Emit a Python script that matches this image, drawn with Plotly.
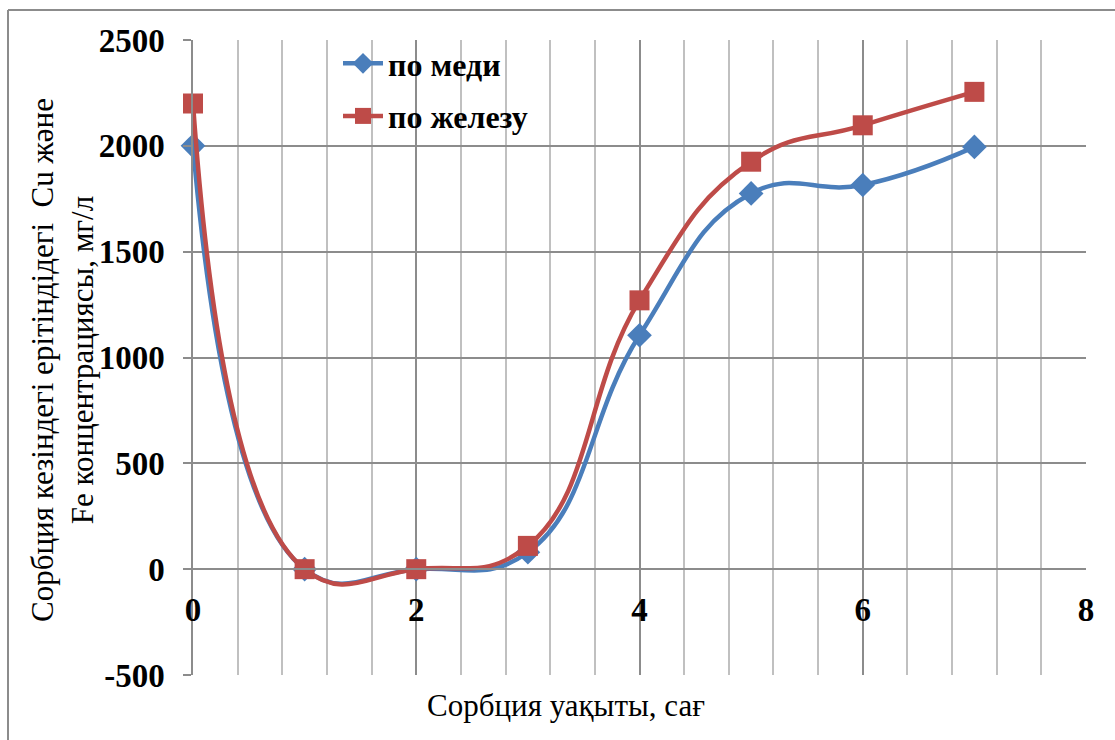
import plotly.graph_objects as go

# Data
time_h = [0, 1, 2, 3, 4, 5, 6, 7]
cu_conc = [2000, 0, 0, 80, 1105, 1775, 1815, 1995]
fe_conc = [2200, 0, 0, 110, 1270, 1925, 2097, 2255]
x_ticks = [0, 2, 4, 6, 8]
y_ticks = [-500, 0, 500, 1000, 1500, 2000, 2500]

W, H = 1115, 740
L, R, T, B = 193, 1086, 40, 675
pw, ph = R - L, B - T


def px(xp):
    return (xp - L) / pw


def py(yp):
    return (B - yp) / ph


FONT = "Liberation Serif, Times New Roman, serif"
BLUE = "#4a7ebb"
RED = "#be4b48"

fig = go.Figure()
fig.add_trace(go.Scatter(
    x=time_h, y=cu_conc, name="по меди", mode="lines+markers",
    line=dict(color=BLUE, width=4.5, shape="spline", smoothing=1.3),
    marker=dict(symbol="diamond", size=19, color=BLUE),
    cliponaxis=False, legendgroup="a"))
fig.add_trace(go.Scatter(
    x=time_h, y=fe_conc, name="по железу", mode="lines+markers",
    line=dict(color=RED, width=4.5, shape="spline", smoothing=1.3),
    marker=dict(symbol="square", size=20, color=RED),
    cliponaxis=False, legendgroup="b"))

fig.update_layout(
    width=W, height=H,
    margin=dict(l=L, r=W - R, t=T, b=H - B, pad=0),
    paper_bgcolor="white", plot_bgcolor="white",
    font=dict(family=FONT, color="black"),
    showlegend=True,
    legend=dict(x=px(338), y=py(36), xanchor="left", yanchor="top",
                font=dict(size=32, family=FONT, color="black", weight="bold"),
                bgcolor="rgba(0,0,0,0)", tracegroupgap=8, itemwidth=40),
    xaxis=dict(range=[0, 8], tickvals=x_ticks, ticktext=[str(v) for v in x_ticks],
               showgrid=True, gridcolor="#8c8c8c", gridwidth=1.5,
               minor=dict(dtick=0.4, tick0=0, showgrid=True, gridcolor="#c0c0c0", gridwidth=1.5),
               zeroline=False, showline=True, linecolor="#8c8c8c", linewidth=1.5,
               anchor="free", position=py(569),
               ticks="", ticklabelstandoff=12,
               tickfont=dict(size=33, family=FONT, color="black", weight="bold")),
    yaxis=dict(range=[-500, 2500], tickvals=y_ticks, ticktext=[str(v) for v in y_ticks],
               showgrid=True, gridcolor="#8c8c8c", gridwidth=1.5,
               zeroline=False, showline=True, linecolor="#8c8c8c", linewidth=1.5,
               ticks="outside", ticklen=8, tickcolor="#8c8c8c", tickwidth=1.5,
               ticklabelstandoff=12,
               tickfont=dict(size=33, family=FONT, color="black", weight="bold")),
    annotations=[
        dict(text="Сорбция кезіндегі ерітіндідегі  Cu және<br>Fe концентрациясы, мг/л",
             xref="paper", yref="paper", x=px(62), y=py(360), xanchor="center", yanchor="middle",
             textangle=-90, showarrow=False, font=dict(size=31, family=FONT, color="black")),
        dict(text="Сорбция уақыты, сағ", xref="paper", yref="paper",
             x=px(566), y=py(705), xanchor="center", yanchor="middle",
             showarrow=False, font=dict(size=31, family=FONT, color="black")),
    ],
    shapes=[
        dict(type="line", xref="paper", yref="paper", x0=px(8), x1=px(1120), y0=py(10), y1=py(10),
             line=dict(color="#8c8c8c", width=2)),
        dict(type="line", xref="paper", yref="paper", x0=px(8), x1=px(8), y0=py(10), y1=py(745),
             line=dict(color="#8c8c8c", width=2)),
    ],
)

fig.write_html("out.html")
